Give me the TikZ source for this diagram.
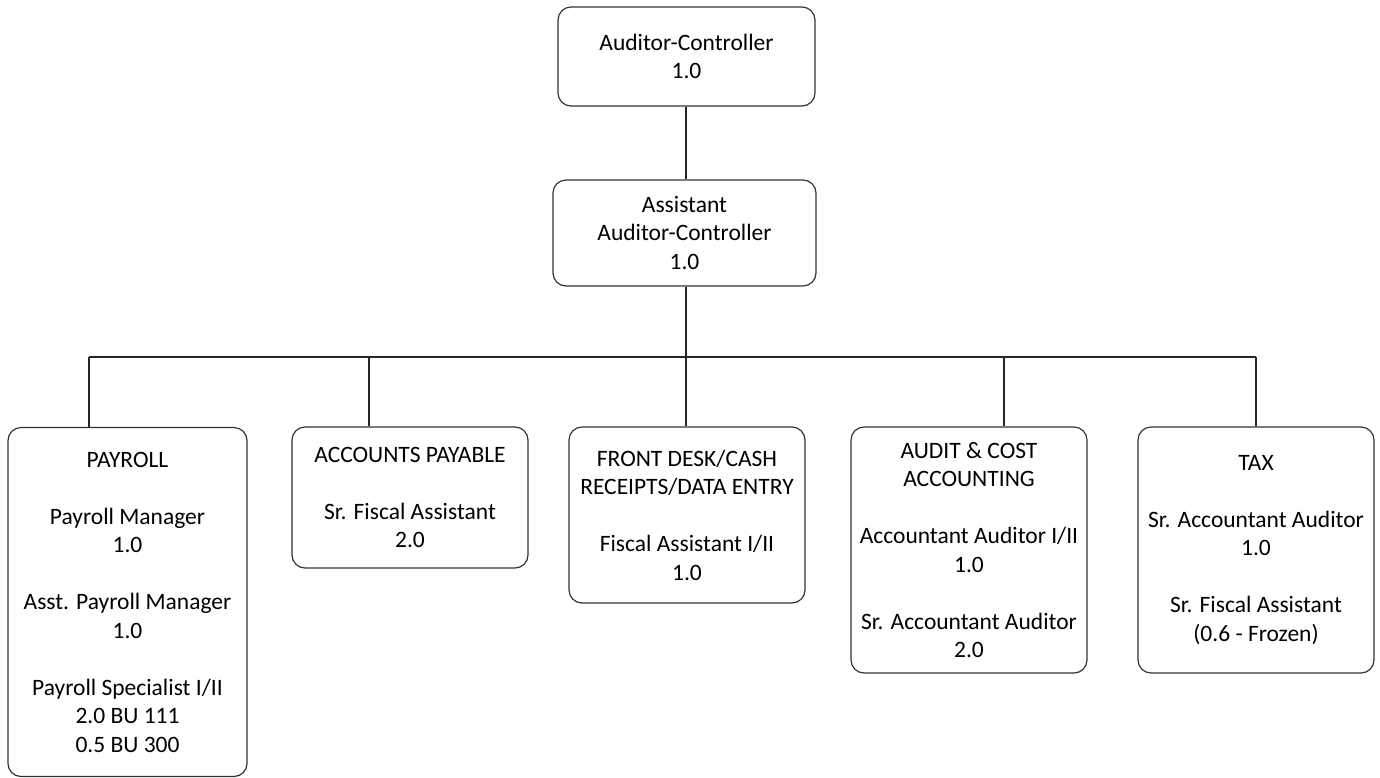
\documentclass[tikz,border=0pt]{standalone}
\usepackage{fontspec}
\setmainfont{Carlito}
\begin{document}
\begin{tikzpicture}[x=1pt,y=-1pt,
  box/.style={draw=black!80, line width=1.2pt, rounded corners=13pt, align=center,
    font=\fontsize{23.5}{28.5}\selectfont, inner sep=0pt, text=black},
  link/.style={draw=black!85, line width=1.2pt}]
\useasboundingbox (0,0) rectangle (1380,777);
\node[box, minimum width=257pt, minimum height=99pt] (ac) at (686.5,56.5) {Auditor-Controller\\1.0};
\node[box, minimum width=263pt, minimum height=106pt] (aac) at (684.5,233) {Assistant\\Auditor-Controller\\1.0};
\node[box, minimum width=239pt, minimum height=349pt] (pay) at (127.5,602) {PAYROLL\\[28.5pt]Payroll Manager\\1.0\\[28.5pt]Asst. Payroll Manager\\1.0\\[28.5pt]Payroll Specialist I/II\\2.0 BU 111\\0.5 BU 300};
\node[box, minimum width=236pt, minimum height=141pt] (ap) at (410,497.5) {ACCOUNTS PAYABLE\\[28.5pt]Sr. Fiscal Assistant\\2.0};
\node[box, minimum width=236pt, minimum height=176pt] (fd) at (687,515) {FRONT DESK/CASH\\RECEIPTS/DATA ENTRY\\[28.5pt]Fiscal Assistant I/II\\1.0};
\node[box, minimum width=236pt, minimum height=246pt] (aud) at (969,550) {AUDIT \& COST\\ACCOUNTING\\[28.5pt]Accountant Auditor I/II\\1.0\\[28.5pt]Sr. Accountant Auditor\\2.0};
\node[box, minimum width=236pt, minimum height=246pt] (tax) at (1256,550) {TAX\\[28.5pt]Sr. Accountant Auditor\\1.0\\[28.5pt]Sr. Fiscal Assistant\\(0.6 - Frozen)};
\coordinate (b1) at (89,357);
\coordinate (b2) at (369,357);
\coordinate (b3) at (686,357);
\coordinate (b4) at (1004,357);
\coordinate (b5) at (1256,357);
\draw[link] (ac.south -| b3) -- (aac.north -| b3);
\draw[link] (aac.south -| b3) -- (b3);
\draw[link] (b1) -- (b5);
\draw[link] (b1) -- (b1 |- pay.north);
\draw[link] (b2) -- (b2 |- ap.north);
\draw[link] (b3) -- (b3 |- fd.north);
\draw[link] (b4) -- (b4 |- aud.north);
\draw[link] (b5) -- (b5 |- tax.north);
\end{tikzpicture}
\end{document}
